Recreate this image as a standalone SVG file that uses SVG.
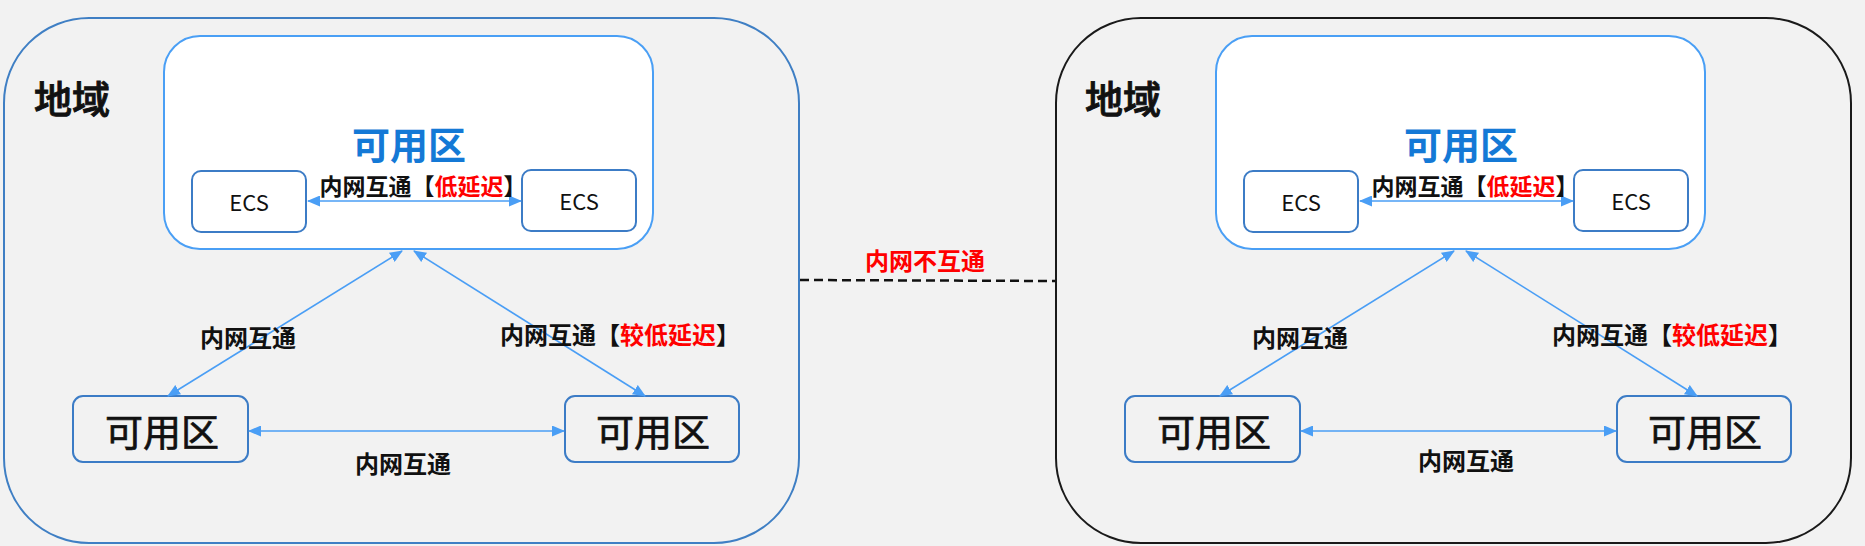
<svg xmlns="http://www.w3.org/2000/svg" width="1865" height="546" viewBox="0 0 1865 546">
<style>
text{font-family:"Noto Sans CJK SC","Noto Sans",sans-serif;dominant-baseline:central;text-anchor:middle;fill:#111}
.region{fill:#f2f2f2;stroke-width:2}
.az{fill:#fff;stroke:#4a9ff5;stroke-width:2}
.box{fill:#fff;stroke:#3c7cc6;stroke-width:2}
.box2{fill:#f2f2f2;stroke:#3c7cc6;stroke-width:2}
.lnk{stroke:#4a9ef5;stroke-width:1.6;fill:none;marker-start:url(#ah);marker-end:url(#ah)}
.lbl{font-size:24px;font-weight:bold}
.red{fill:#ff0000}
.title{font-size:38px;font-weight:500;stroke:#111;stroke-width:0.9}
.azt{font-size:38px;font-weight:bold;fill:#1479d6}
.azb{font-size:38px;font-weight:normal;stroke:#111;stroke-width:0.7}
.ecs{font-size:22px}
.ecsl{font-size:23px}
</style>
<defs>
<marker id="ah" markerUnits="userSpaceOnUse" markerWidth="13" markerHeight="11" refX="12" refY="5.5" orient="auto-start-reverse" viewBox="0 0 13 11">
<path d="M0,0 L13,5.5 L0,11 z" fill="#4a9ef5"/>
</marker>
</defs>
<rect width="1865" height="546" fill="#f2f2f2"/>

<g id="region-left">
<rect class="region" x="4" y="18" width="795" height="525" rx="85" stroke="#3f7fc4"/>
<text class="title" x="72" y="96">地域</text>
</g>
<g id="az-top-left">
<rect class="az" x="164" y="36" width="489" height="213" rx="36"/>
<text class="azt" x="409" y="142">可用区</text>
</g>
<g id="ecs1-left">
<rect class="box" x="192" y="171" width="114" height="61" rx="9"/>
<text class="ecs" x="249" y="201">ECS</text>
</g>
<g id="ecs2-left">
<rect class="box" x="522" y="170" width="114" height="61" rx="9"/>
<text class="ecs" x="579" y="200">ECS</text>
</g>
<g id="az-bl-left">
<rect class="box2" x="73" y="396" width="175" height="66" rx="10"/>
<text class="azb" x="162" y="429">可用区</text>
</g>
<g id="az-br-left">
<rect class="box2" x="565" y="396" width="174" height="66" rx="10"/>
<text class="azb" x="653" y="429">可用区</text>
</g>

<g id="region-right">
<rect class="region" x="1056" y="18" width="795" height="525" rx="85" stroke="#1a1a1a"/>
<text class="title" x="1123" y="96">地域</text>
</g>
<g id="az-top-right" transform="translate(1052,0)">
<rect class="az" x="164" y="36" width="489" height="213" rx="36"/>
<text class="azt" x="409" y="142">可用区</text>
</g>
<g id="ecs1-right" transform="translate(1052,0)">
<rect class="box" x="192" y="171" width="114" height="61" rx="9"/>
<text class="ecs" x="249" y="201">ECS</text>
</g>
<g id="ecs2-right" transform="translate(1052,0)">
<rect class="box" x="522" y="170" width="114" height="61" rx="9"/>
<text class="ecs" x="579" y="200">ECS</text>
</g>
<g id="az-bl-right" transform="translate(1052,0)">
<rect class="box2" x="73" y="396" width="175" height="66" rx="10"/>
<text class="azb" x="162" y="429">可用区</text>
</g>
<g id="az-br-right" transform="translate(1052,0)">
<rect class="box2" x="565" y="396" width="174" height="66" rx="10"/>
<text class="azb" x="653" y="429">可用区</text>
</g>

<g id="connectors">
<g id="conn-left">
<line class="lnk" x1="308" y1="201" x2="521" y2="201"/>
<line class="lnk" x1="402" y1="251" x2="168" y2="396"/>
<line class="lnk" x1="414" y1="251" x2="645" y2="396"/>
<line class="lnk" x1="249" y1="431" x2="564" y2="431"/>
<text class="lbl ecsl" x="423" y="185">内网互通【<tspan class="red">低延迟</tspan>】</text>
<text class="lbl" x="248" y="336">内网互通</text>
<text class="lbl" x="620" y="333">内网互通【<tspan class="red">较低延迟</tspan>】</text>
<text class="lbl" x="403" y="462">内网互通</text>
</g>
<g id="conn-right" transform="translate(1052,0)">
<line class="lnk" x1="308" y1="201" x2="521" y2="201"/>
<line class="lnk" x1="402" y1="251" x2="168" y2="396"/>
<line class="lnk" x1="414" y1="251" x2="645" y2="396"/>
<line class="lnk" x1="249" y1="431" x2="564" y2="431"/>
<text class="lbl ecsl" x="423" y="185">内网互通【<tspan class="red">低延迟</tspan>】</text>
<text class="lbl" x="248" y="336">内网互通</text>
<text class="lbl" x="620" y="333">内网互通【<tspan class="red">较低延迟</tspan>】</text>
<text class="lbl" x="414" y="459">内网互通</text>
</g>
<g id="conn-regions">
<line x1="800" y1="280" x2="1055" y2="281" stroke="#111" stroke-width="2.5" stroke-dasharray="9 5"/>
<text class="lbl red" x="925" y="259">内网不互通</text>
</g>
</g>
</svg>
